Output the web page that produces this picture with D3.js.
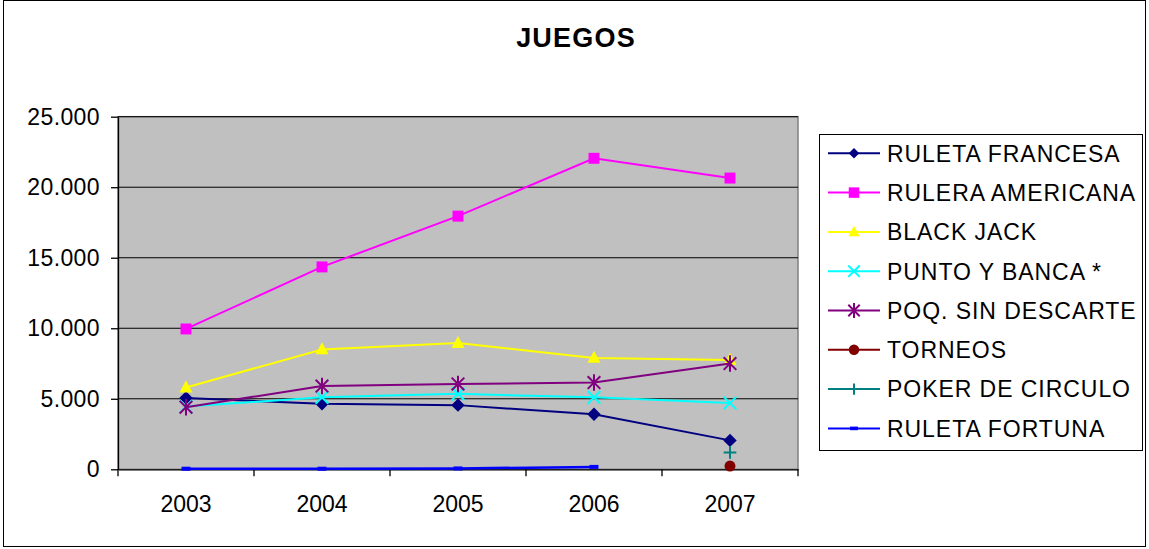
<!DOCTYPE html>
<html><head><meta charset="utf-8">
<script src="https://cdn.jsdelivr.net/npm/d3@7/dist/d3.min.js"></script>
<style>body{margin:0;background:#fff}svg{display:block}text{font-family:"Liberation Sans",Arial,sans-serif}</style>
</head><body><svg id="c" width="1149" height="549"></svg>
<script>
const title = "JUEGOS";
const years = ["2003","2004","2005","2006","2007"];
const yTicks = [0,5000,10000,15000,20000,25000];
const seriesNames = ["RULETA FRANCESA","RULERA AMERICANA","BLACK JACK","PUNTO Y BANCA *","POQ. SIN DESCARTE","TORNEOS","POKER DE CIRCULO","RULETA FORTUNA"];
const ruletaFrancesa = [5050,4650,4550,3900,2050];
const ruleraAmericana = [9950,14350,17950,22050,20650];
const blackJack = [5800,8500,8950,7900,7750];
const puntoYBanca = [4450,5100,5350,5100,4700];
const poqSinDescarte = [4400,5900,6050,6150,7500];
const torneos = [null,null,null,null,230];
const pokerDeCirculo = [null,null,null,null,1200];
const ruletaFortuna = [40,40,60,170,null];
const seriesValues = [ruletaFrancesa,ruleraAmericana,blackJack,puntoYBanca,poqSinDescarte,torneos,pokerDeCirculo,ruletaFortuna];
const seriesColors = ["#000080","#FF00FF","#FFFF00","#00FFFF","#800080","#800000","#008080","#0000FF"];
const seriesMarkers = ["diamond","square","triangle","x","asterisk","circle","plus","dash"];

const svg = d3.select("#c");
svg.append("rect").attr("x",3.5).attr("y",0.5).attr("width",1142).attr("height",546).attr("fill","#fff").attr("stroke","#000").attr("stroke-width",1);
svg.append("text").attr("x",576).attr("y",47).attr("text-anchor","middle").attr("font-size",27).attr("font-weight","bold").attr("letter-spacing",1.2).text(title);

const L=118,T=116.7,R=798,B=469.3;
const x = d3.scaleBand().domain(years).range([L,R]).padding(0);
const y = d3.scaleLinear().domain([0,25000]).range([B,T]);
const fmt = d3.formatLocale({decimal:",",thousands:".",grouping:[3],currency:["",""]}).format(",");

svg.append("rect").attr("x",L).attr("y",T).attr("width",R-L).attr("height",B-T).attr("fill","#C0C0C0").attr("stroke","#808080").attr("stroke-width",1.5);
svg.append("g").selectAll("line").data(yTicks.filter(d=>d>0)).join("line")
  .attr("x1",L).attr("x2",R).attr("y1",d=>y(d)).attr("y2",d=>y(d)).attr("stroke","#000").attr("stroke-width",1);

const ya = svg.append("g").attr("transform",`translate(${L},0)`)
  .call(d3.axisLeft(y).tickValues(yTicks).tickSize(7).tickSizeOuter(0).tickPadding(11).tickFormat(fmt));
ya.selectAll("text").attr("font-size",23).attr("fill","#000").attr("font-family","Liberation Sans, Arial, sans-serif").attr("letter-spacing",0.4);
ya.selectAll("line,path").attr("stroke","#000").attr("stroke-width",1.3);

const xa = svg.append("g").attr("transform",`translate(0,${B})`)
  .call(d3.axisBottom(x).tickSize(0).tickSizeOuter(0).tickPadding(26));
xa.selectAll("text").attr("font-size",23).attr("fill","#000").attr("font-family","Liberation Sans, Arial, sans-serif");
xa.select("path").attr("stroke","#000").attr("stroke-width",1.3);
const bounds = years.map(d=>x(d)).concat([x(years[years.length-1])+x.bandwidth()]);
svg.append("g").selectAll("line").data(bounds).join("line")
  .attr("x1",d=>d).attr("x2",d=>d).attr("y1",B).attr("y2",B+7).attr("stroke","#000").attr("stroke-width",1.3);

function sym(kind){
  return {draw(ctx,size){
    const r=Math.sqrt(size)/2;
    if(kind==="diamond"){ctx.moveTo(0,-r);ctx.lineTo(r,0);ctx.lineTo(0,r);ctx.lineTo(-r,0);ctx.closePath();}
    else if(kind==="square"){ctx.rect(-r,-r,2*r,2*r);}
    else if(kind==="triangle"){ctx.moveTo(0,-r*1.1);ctx.lineTo(r,r*0.75);ctx.lineTo(-r,r*0.75);ctx.closePath();}
    else if(kind==="circle"){ctx.moveTo(r,0);ctx.arc(0,0,r,0,2*Math.PI);}
    else if(kind==="x"){ctx.moveTo(-r,-r);ctx.lineTo(r,r);ctx.moveTo(r,-r);ctx.lineTo(-r,r);}
    else if(kind==="asterisk"){ctx.moveTo(-r,-r);ctx.lineTo(r,r);ctx.moveTo(r,-r);ctx.lineTo(-r,r);ctx.moveTo(0,-r*1.3);ctx.lineTo(0,r*1.3);}
    else if(kind==="plus"){ctx.moveTo(-r,0);ctx.lineTo(r,0);ctx.moveTo(0,-r);ctx.lineTo(0,r);}
    else if(kind==="dash"){ctx.rect(-r,-r*0.45,2*r,r*0.9);}
  }};
}
const strokeKinds = new Set(["x","asterisk","plus"]);
const markerSize = {diamond:180,square:120,triangle:170,x:160,asterisk:160,circle:120,plus:160,dash:80};
const legendSize = {diamond:110,square:110,triangle:130,x:130,asterisk:130,circle:110,plus:130,dash:64};

const line = d3.line().defined(d=>d.v!=null).x(d=>x(d.k)+x.bandwidth()/2).y(d=>y(d.v));
function drawMarker(g,kind,color,size){
  const p=g.append("path").attr("d",d3.symbol().type(sym(kind)).size(size)());
  if(strokeKinds.has(kind)) p.attr("fill","none").attr("stroke",color).attr("stroke-width",2);
  else p.attr("fill",color).attr("stroke","none");
  return p;
}
seriesNames.forEach((name,i)=>{
  const data = years.map((k,j)=>({k,v:seriesValues[i][j]}));
  const g = svg.append("g");
  g.append("path").datum(data).attr("d",line).attr("fill","none").attr("stroke",seriesColors[i]).attr("stroke-width",i===7?2.5:2);
  data.filter(d=>d.v!=null).forEach(d=>{
    drawMarker(g,seriesMarkers[i],seriesColors[i],markerSize[seriesMarkers[i]])
      .attr("transform",`translate(${x(d.k)+x.bandwidth()/2},${y(d.v)})`);
  });
});

// legend
const lg = svg.append("g");
lg.append("rect").attr("x",819.5).attr("y",134.5).attr("width",323).attr("height",316).attr("fill","#fff").attr("stroke","#000").attr("stroke-width",1);
seriesNames.forEach((name,i)=>{
  const cy = 153.3 + i*39.3;
  lg.append("line").attr("x1",828).attr("x2",880).attr("y1",cy).attr("y2",cy).attr("stroke",seriesColors[i]).attr("stroke-width",2);
  drawMarker(lg,seriesMarkers[i],seriesColors[i],legendSize[seriesMarkers[i]]).attr("transform",`translate(854,${cy})`);
  lg.append("text").attr("x",887).attr("y",cy+8.3).attr("font-size",23).attr("letter-spacing",0.95).attr("fill","#000").text(name);
});
</script></body></html>
